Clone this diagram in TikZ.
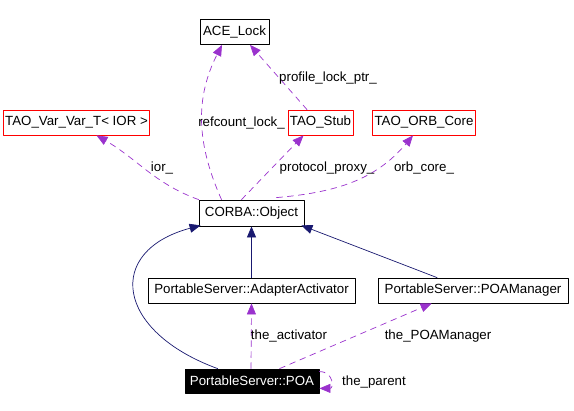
\documentclass[tikz,border=0pt]{standalone}
\usepackage{fontspec}
\setmainfont{Liberation Sans}
\usepackage{xcolor}
\usetikzlibrary{arrows.meta}
\definecolor{usecol}{HTML}{9A32CD}
\definecolor{inhcol}{HTML}{191970}
\tikzset{
  cls/.style={draw=black,line width=0.8pt,minimum height=25pt,inner sep=2pt,font=\fontsize{13.3}{15}\selectfont},
  trunc/.style={cls,draw=red},
  inh/.style={->,draw=inhcol,line width=0.7pt},
  use/.style={->,draw=usecol,line width=0.7pt,dash pattern=on 6pt off 5pt},
  lbl/.style={font=\fontsize{13.3}{15}\selectfont,inner sep=0pt}
}
\begin{document}
\begin{tikzpicture}[line cap=round,line join=round,x=1pt,y=1pt,>={Triangle[length=11pt,width=9pt]}]
\useasboundingbox (0,0) rectangle (574,411);
% classes
\node[cls,minimum width=69pt] (lock) at (234.5,379) {ACE\_Lock};
\node[trunc,minimum width=139pt] (varvar) at (76.5,288.5) {TAO\_Var\_Var\_T< IOR >};
\node[trunc,minimum width=65pt] (stub) at (320.5,288.5) {TAO\_Stub};
\node[trunc,minimum width=100pt] (orbcore) at (424,288.5) {TAO\_ORB\_Core};
\node[cls,minimum width=105pt,minimum height=26pt] (object) at (251.5,198) {CORBA::Object};
\node[cls,minimum width=207pt] (activator) at (251.5,120.5) {PortableServer::AdapterActivator};
\node[cls,minimum width=190pt] (manager) at (473,120.5) {PortableServer::POAManager};
\node[cls,fill=black,text=white,minimum width=134pt,minimum height=24pt] (poa) at (252,30) {PortableServer::POA};
% inheritance
\draw[inh] ([xshift=33pt]poa.north west) .. controls (115,80) and (105,160) .. ([xshift=2pt,yshift=1pt]object.south west);
\draw[inh] (activator.north) -- (object.south);
\draw[inh] ([xshift=-36pt]manager.north) -- ([xshift=-3pt,yshift=1pt]object.south east);
% usage
\draw[use] ([xshift=-1pt]poa.north) -- (activator.south);
\draw[use] ([xshift=95pt]poa.north west) -- ([xshift=54pt]manager.south west);
\draw[use] ([yshift=-3pt]poa.north east) to[out=0,in=0,looseness=2.2] ([yshift=5pt]poa.south east);
\draw[use] (object.north west) to[out=160,in=-30] ([xshift=20pt]varvar.south);
\draw[use] ([xshift=-30pt]object.north) to[out=114,in=-117] ([xshift=-12.5pt]lock.south);
\draw[use] ([xshift=-10pt]object.north) -- ([xshift=-17pt]stub.south);
\draw[use] ([xshift=25pt,yshift=2pt]object.north) to[out=5,in=-130] ([xshift=-11pt]orbcore.south);
\draw[use] ([xshift=-13.5pt]stub.north) -- ([xshift=15.5pt]lock.south);
% labels
\node[lbl] (lact) at (289,75) {the\_activator};
\node[lbl] (lman) at (438,75) {the\_POAManager};
\node[lbl] (lpar) at (374,29) {the\_parent};
\node[lbl] (lior) at (162,243) {ior\_};
\node[lbl] (lref) at (241.5,288) {refcount\_lock\_};
\node[lbl] (lpro) at (327,243) {protocol\_proxy\_};
\node[lbl] (lorb) at (424,243) {orb\_core\_};
\node[lbl] (lprof) at (328,333) {profile\_lock\_ptr\_};
\end{tikzpicture}
\end{document}
